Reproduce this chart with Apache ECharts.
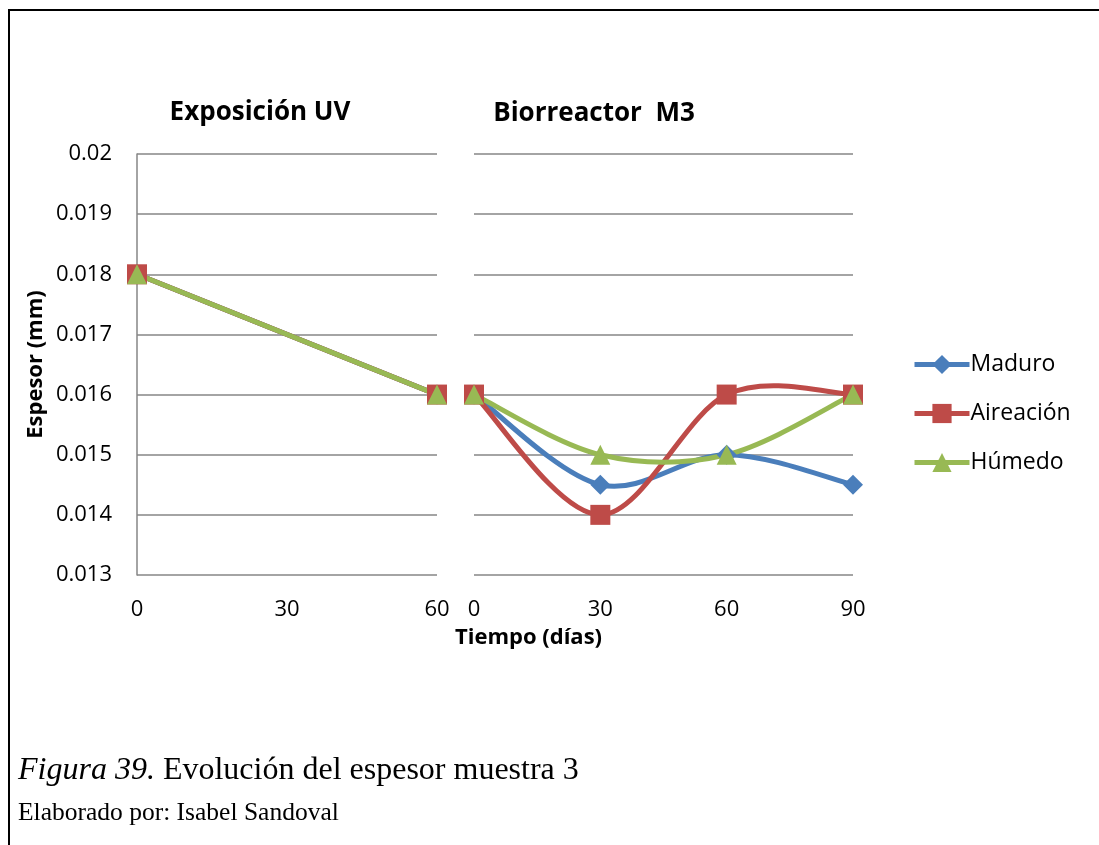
<!DOCTYPE html>
<html><head><meta charset="utf-8">
<script src="https://cdn.jsdelivr.net/npm/echarts@6/dist/echarts.min.js"></script>
<style>html,body{margin:0;padding:0;background:#fff}#c{width:1099px;height:845px}</style>
</head><body><div id="c"></div>
<script>
const uvDays = [0, 60];
const bioDays = [0, 30, 60, 90];
const uvMaduro = [0.018, 0.016];
const uvAireacion = [0.018, 0.016];
const uvHumedo = [0.018, 0.016];
const bioMaduro = [0.016, 0.0145, 0.015, 0.0145];
const bioAireacion = [0.016, 0.014, 0.016, 0.016];
const bioHumedo = [0.016, 0.015, 0.015, 0.016];
const seriesNames = ['Maduro', 'Aireación', 'Húmedo'];
const colors = ['#4A7EBB', '#BE4B48', '#98B954'];
const symbols = ['diamond', 'rect', 'triangle'];
const symSizes = [20, 20, 20];

const pair = (xs, ys) => xs.map((x, i) => [x, ys[i]]);
const uvData = [uvMaduro, uvAireacion, uvHumedo];
const bioData = [bioMaduro, bioAireacion, bioHumedo];
const font = '"Open Sans", "Noto Sans", sans-serif';

// Excel-like smoothed curve (Catmull-Rom bezier), drawn through the axis scales
function smoothCurve(name, xs, ys, color) {
  const n = xs.length;
  return {
    name: name, type: 'custom', xAxisIndex: 1, yAxisIndex: 1, z: 2, silent: true,
    data: pair(xs, ys),
    renderItem: function (params, api) {
      const i = params.dataIndex;
      if (i >= n - 1) return null;
      const p = k => { const j = Math.max(0, Math.min(n - 1, k)); return api.coord([xs[j], ys[j]]); };
      const p0 = p(i - 1), p1 = p(i), p2 = p(i + 1), p3 = p(i + 2);
      return {
        type: 'bezierCurve',
        shape: {
          x1: p1[0], y1: p1[1], x2: p2[0], y2: p2[1],
          cpx1: p1[0] + (p2[0] - p0[0]) / 6, cpy1: p1[1] + (p2[1] - p0[1]) / 6,
          cpx2: p2[0] - (p3[0] - p1[0]) / 6, cpy2: p2[1] - (p3[1] - p1[1]) / 6
        },
        style: {stroke: color, lineWidth: 5, fill: null, lineCap: 'round'}
      };
    }
  };
}

const series = [];
seriesNames.forEach((n, i) => {
  series.push({name: n, type: 'line', xAxisIndex: 0, yAxisIndex: 0,
    data: pair(uvDays, uvData[i]), symbol: symbols[i], symbolSize: symSizes[i],
    lineStyle: {width: 5, color: colors[i]}, itemStyle: {color: colors[i]}, z: 3});
});
seriesNames.forEach((n, i) => {
  series.push(smoothCurve(n, bioDays, bioData[i], colors[i]));
});
seriesNames.forEach((n, i) => {
  series.push({name: n, type: 'line', xAxisIndex: 1, yAxisIndex: 1,
    data: pair(bioDays, bioData[i]), symbol: symbols[i], symbolSize: symSizes[i],
    lineStyle: {width: 0, opacity: 0}, itemStyle: {color: colors[i]}, z: 3});
});

const gridLine = {show: true, lineStyle: {color: '#868686', width: 1.5}};
const chart = echarts.init(document.getElementById('c'));
chart.setOption({
  animation: false,
  textStyle: {fontFamily: font},
  title: [
    {text: 'Exposición UV', left: 255, top: 95, textAlign: 'center',
     textStyle: {fontSize: 26, fontWeight: 'bold', color: '#000', fontFamily: font}},
    {text: 'Biorreactor  M3', left: 589, top: 96, textAlign: 'center',
     textStyle: {fontSize: 26, fontWeight: 'bold', color: '#000', fontFamily: font}}
  ],
  legend: {
    orient: 'vertical', left: 907, top: 348, itemGap: 26, itemWidth: 55, itemHeight: 24,
    data: seriesNames,
    lineStyle: {width: 5},
    textStyle: {fontSize: 23, color: '#000', fontFamily: font, padding: [0, 0, 0, -4]}
  },
  grid: [
    {left: 137, right: 662, top: 154, bottom: 270},
    {left: 474, right: 246, top: 154, bottom: 270}
  ],
  xAxis: [
    {type: 'value', gridIndex: 0, min: 0, max: 60, interval: 30,
     axisLine: {show: false}, axisTick: {show: false}, splitLine: {show: false},
     axisLabel: {fontSize: 22, color: '#000', margin: 24, fontFamily: font}},
    {type: 'value', gridIndex: 1, min: 0, max: 90, interval: 30,
     axisLine: {show: false}, axisTick: {show: false}, splitLine: {show: false},
     name: 'Tiempo (días)', nameLocation: 'middle', nameGap: 52,
     nameTextStyle: {fontSize: 22, fontWeight: 'bold', color: '#000', fontFamily: font, padding: [0, 0, 0, -270]},
     axisLabel: {fontSize: 22, color: '#000', margin: 24, fontFamily: font}}
  ],
  yAxis: [
    {type: 'value', gridIndex: 0, min: 0.013, max: 0.02, interval: 0.001,
     axisLine: {show: true, lineStyle: {color: '#868686', width: 1.5}}, axisTick: {show: false},
     splitLine: gridLine,
     name: 'Espesor (mm)', nameLocation: 'middle', nameGap: 90,
     nameTextStyle: {fontSize: 22, fontWeight: 'bold', color: '#000', fontFamily: font},
     axisLabel: {fontSize: 22, color: '#000', margin: 25, fontFamily: font,
       formatter: v => String(parseFloat(v.toFixed(3)))}},
    {type: 'value', gridIndex: 1, min: 0.013, max: 0.02, interval: 0.001,
     axisLine: {show: false}, axisTick: {show: false},
     splitLine: gridLine, axisLabel: {show: false}}
  ],
  graphic: [
    {type: 'rect', shape: {x: 9, y: 10, width: 1100, height: 900}, z: 100,
     style: {fill: 'none', stroke: '#000', lineWidth: 2}},
    {type: 'text', left: 18, top: 755, z: 100,
     style: {text: '{i|Figura 39.} Evolución del espesor muestra 3', fill: '#000',
       font: '32px "Liberation Serif", serif',
       rich: {i: {fontStyle: 'italic', fontSize: 32, fontFamily: '"Liberation Serif", serif', fill: '#000'}}}},
    {type: 'text', left: 18, top: 800, z: 100,
     style: {text: 'Elaborado por: Isabel Sandoval', fill: '#000', font: '25.5px "Liberation Serif", serif'}}
  ],
  series: series
});
</script></body></html>
